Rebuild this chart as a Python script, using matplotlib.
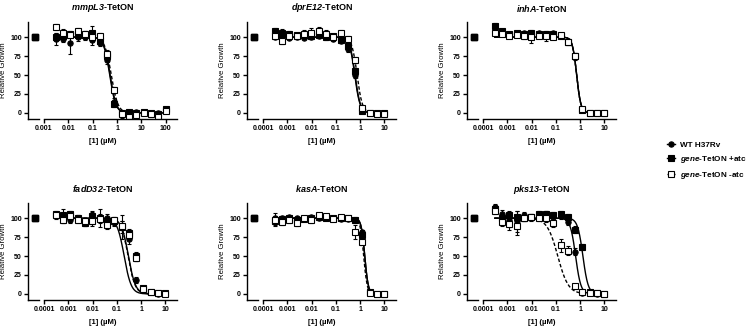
import numpy as np
import matplotlib.pyplot as plt
from matplotlib.lines import Line2D

plt.rcParams['font.family'] = 'Liberation Sans'
plt.rcParams['font.weight'] = 'bold'
plt.rcParams['mathtext.fontset'] = 'custom'
# bold-italic gene names (digits included) go through \mathbf
plt.rcParams['mathtext.bf'] = 'Liberation Sans:italic:bold'
plt.rcParams['mathtext.rm'] = 'Liberation Sans:bold'
plt.rcParams['axes.linewidth'] = 1.0

# concentrations (uM), 2-fold dilutions
conc_hi = [0.00305, 0.0061, 0.0122, 0.0244, 0.0488, 0.0977, 0.195, 0.39,
           0.78, 1.56, 3.13, 6.25, 12.5, 25, 50, 100]
conc_lo = [0.000305, 0.00061, 0.00122, 0.00244, 0.00488, 0.00977, 0.0195, 0.039,
           0.078, 0.156, 0.3125, 0.625, 1.25, 2.5, 5, 10]

# mmpL3
mmpl3_wt = [98, 97, 92, 100, 100, 96, 92, 70, 15, -3, 0, 1, 0, -2, 0, 3]
mmpl3_wt_err = [8, 4, 14, 5, 4, 6, 4, 6, 5, 4, 3, 2, 2, 3, 2, 2]
mmpl3_on = [100, 101, 104, 103, 103, 105, 95, 75, 12, 0, 1, 0, 1, 0, -2, 5]
mmpl3_on_err = [5, 4, 4, 4, 5, 10, 4, 5, 4, 3, 3, 2, 2, 3, 3, 2]
mmpl3_off = [113, 106, 103, 108, 104, 100, 102, 78, 30, -2, -5, -3, 0, -2, -5, 3]
mmpl3_off_err = [4, 5, 4, 4, 4, 4, 3, 5, 4, 3, 3, 2, 2, 2, 2, 2]
mmpl3_ic50 = [0.5, 0.52, 0.58]
mmpl3_hill = [3.5, 3.5, 3.2]

# dprE12
dpre12_wt = [100, 100, 99, 100, 99, 100, 101, 100, 98, 95, 85, 50, 2, 0, 0, -1]
dpre12_wt_err = [3, 3, 2, 2, 2, 2, 2, 2, 3, 3, 4, 4, 2, 1, 1, 1]
dpre12_on = [108, 106, 104, 103, 103, 102, 103, 100, 101, 96, 88, 55, 2, 0, 0, 0]
dpre12_on_err = [4, 5, 4, 3, 3, 3, 3, 4, 3, 3, 4, 4, 2, 1, 1, 1]
dpre12_off = [102, 95, 101, 102, 104, 105, 108, 104, 100, 106, 98, 70, 6, 0, -1, -1]
dpre12_off_err = [3, 4, 4, 4, 5, 7, 6, 5, 4, 3, 3, 4, 2, 1, 1, 1]
dpre12_ic50 = [0.6, 0.62, 0.75]
dpre12_hill = [4.0, 4.0, 4.0]

# inhA
inha_wt = [108, 106, 104, 104, 105, 104, 105, 104, 105, 103, 95, 74, 5, 0, 0, 0]
inha_wt_err = [3, 3, 3, 2, 2, 3, 2, 2, 2, 2, 3, 4, 2, 1, 1, 1]
inha_on = [115, 108, 104, 105, 104, 105, 104, 104, 104, 102, 93, 75, 4, 0, 0, 0]
inha_on_err = [4, 3, 3, 3, 3, 5, 3, 4, 3, 3, 3, 4, 2, 1, 1, 1]
inha_off = [106, 104, 102, 103, 101, 100, 102, 101, 100, 103, 94, 75, 5, 0, 0, 0]
inha_off_err = [3, 3, 3, 3, 3, 8, 3, 6, 3, 3, 3, 4, 2, 1, 1, 1]
inha_ic50 = [0.72, 0.72, 0.72]
inha_hill = [5.0, 5.0, 5.0]

# fadD32
fadd32_wt = [103, 100, 98, 100, 95, 100, 102, 100, 95, 88, 72, 18, 5, 2, 0, 0]
fadd32_wt_err = [4, 6, 5, 4, 5, 8, 4, 6, 5, 16, 6, 4, 3, 2, 2, 2]
fadd32_on = [106, 104, 105, 100, 94, 103, 100, 95, 96, 88, 80, 50, 8, 3, 1, 1]
fadd32_on_err = [4, 8, 4, 4, 4, 6, 12, 5, 5, 8, 6, 6, 3, 2, 2, 2]
fadd32_off = [104, 98, 103, 98, 96, 96, 99, 91, 97, 90, 78, 48, 6, 2, 1, 0]
fadd32_off_err = [3, 5, 4, 4, 4, 6, 5, 5, 4, 6, 5, 5, 3, 2, 2, 2]
fadd32_ic50 = [0.2, 0.3, 0.29]
fadd32_hill = [3.0, 3.0, 3.0]

# kasA
kasa_wt = [100, 100, 101, 100, 100, 101, 100, 100, 99, 99, 99, 98, 82, 2, 0, 0]
kasa_wt_err = [3, 3, 2, 2, 2, 2, 2, 2, 2, 2, 2, 3, 3, 1, 1, 1]
kasa_on = [96, 99, 100, 97, 99, 100, 101, 100, 100, 100, 100, 97, 78, 2, 0, 0]
kasa_on_err = [5, 4, 3, 3, 3, 3, 3, 3, 3, 2, 2, 3, 3, 1, 1, 1]
kasa_off = [98, 95, 97, 94, 100, 97, 104, 103, 99, 101, 100, 82, 68, 1, 0, 0]
kasa_off_err = [9, 4, 3, 5, 3, 3, 3, 3, 3, 3, 3, 9, 3, 1, 1, 1]
kasa_ic50 = [1.55, 1.55, 1.4]
kasa_hill = [6.0, 6.0, 6.0]

# pks13
pks13_wt = [115, 105, 98, 96, 104, 100, 102, 103, 101, 103, 95, 56, 1, 1, 0, 0]
pks13_wt_err = [4, 6, 10, 14, 4, 4, 4, 6, 4, 4, 4, 5, 2, 1, 1, 1]
pks13_on = [112, 100, 104, 101, 100, 101, 106, 105, 104, 106, 102, 85, 62, 2, 1, 0]
pks13_on_err = [4, 5, 5, 8, 4, 4, 4, 5, 4, 4, 4, 4, 4, 1, 1, 1]
pks13_off = [110, 95, 92, 90, 100, 102, 100, 100, 93, 64, 57, 10, 3, 1, 1, 0]
pks13_off_err = [4, 6, 8, 12, 4, 3, 4, 5, 5, 8, 6, 3, 2, 1, 1, 1]
pks13_ic50 = [0.65, 1.3, 0.12]
pks13_hill = [4.0, 4.0, 2.0]

W, H = 756, 328
fig = plt.figure(figsize=(W / 100, H / 100), dpi=100)

col_x = [28, 247, 467]
row_top = [22, 203]
seg_w, gap, main_w, ax_h = 11, 5, 133, 97

styles = [dict(marker='o', mfc='black', mec='black', ls='-'),
          dict(marker='s', mfc='black', mec='black', ls='-'),
          dict(marker='s', mfc='white', mec='black', ls=(0, (2.5, 1.5)))]


def hill_curve(x, ic50, h):
    return 100 / (1 + (x / ic50) ** h)


def panel(col, row, title, x, series, errs, ic50s, hills, xmin, xmax, xticks, xticklabels):
    left = col_x[col]
    top = row_top[row]
    bottom = (H - top - ax_h) / H
    axl = fig.add_axes([left / W, bottom, seg_w / W, ax_h / H])
    axm = fig.add_axes([(left + seg_w + gap) / W, bottom, main_w / W, ax_h / H])
    for a in (axl, axm):
        a.set_ylim(-8, 120)
        a.spines['top'].set_visible(False)
        a.spines['right'].set_visible(False)
        a.patch.set_visible(False)
        a.tick_params(length=3, width=1, labelsize=5, pad=1.5)
    # control (no drug) well
    axl.set_xlim(0, 1)
    axl.set_xticks([])
    axl.set_yticks([0, 25, 50, 75, 100])
    axl.set_ylabel('Relative Growth', fontsize=5.6, labelpad=2)
    for st in styles:
        axl.plot([0.65], [100], marker=st['marker'], mfc='black', mec='black', ms=3.8, ls='none')
    axm.spines['left'].set_visible(False)
    axm.set_yticks([])
    axm.set_xscale('log')
    axm.set_xlim(xmin, xmax)
    axm.set_xticks(xticks)
    axm.set_xticklabels(xticklabels)
    axm.minorticks_off()
    xs = np.logspace(np.log10(x[0]), np.log10(x[-1]), 200)
    for k in range(3):
        st = styles[k]
        axm.plot(xs, hill_curve(xs, ic50s[k], hills[k]), color='black', lw=1.0, ls=st['ls'])
        axm.errorbar(x, series[k], yerr=errs[k], fmt=st['marker'], mfc=st['mfc'], mec='black',
                     ms=3.8, mew=0.8, ecolor='black', elinewidth=0.8, capsize=1.5, capthick=0.8)
    cx = (left + (left + seg_w + gap + main_w)) / 2 / W
    fig.text(cx, (H - top + 14) / H, title, ha='center', va='center', fontsize=6.5)
    fig.text(cx, (H - top - ax_h - 22) / H, '[1] (µM)', ha='center', va='center', fontsize=5.6)


dec_lo = [0.0001, 0.001, 0.01, 0.1, 1, 10]
dec_lo_lab = ['0.0001', '0.001', '0.01', '0.1', '1', '10']

panel(0, 0, r'$\mathbf{mmpL3}$-TetON', conc_hi,
      [mmpl3_wt, mmpl3_on, mmpl3_off], [mmpl3_wt_err, mmpl3_on_err, mmpl3_off_err],
      mmpl3_ic50, mmpl3_hill, 0.001, 290,
      [0.001, 0.01, 0.1, 1, 10, 100], ['0.001', '0.01', '0.1', '1', '10', '100'])
panel(1, 0, r'$\mathbf{dprE12}$-TetON', conc_lo,
      [dpre12_wt, dpre12_on, dpre12_off], [dpre12_wt_err, dpre12_on_err, dpre12_off_err],
      dpre12_ic50, dpre12_hill, 0.0001, 30, dec_lo, dec_lo_lab)
panel(2, 0, r'$\mathbf{inhA}$-TetON', conc_lo,
      [inha_wt, inha_on, inha_off], [inha_wt_err, inha_on_err, inha_off_err],
      inha_ic50, inha_hill, 0.0001, 30, dec_lo, dec_lo_lab)
panel(0, 1, r'$\mathbf{fadD32}$-TetON', conc_lo,
      [fadd32_wt, fadd32_on, fadd32_off], [fadd32_wt_err, fadd32_on_err, fadd32_off_err],
      fadd32_ic50, fadd32_hill, 0.0001, 30, dec_lo, dec_lo_lab)
panel(1, 1, r'$\mathbf{kasA}$-TetON', conc_lo,
      [kasa_wt, kasa_on, kasa_off], [kasa_wt_err, kasa_on_err, kasa_off_err],
      kasa_ic50, kasa_hill, 0.0001, 30, dec_lo, dec_lo_lab)
panel(2, 1, r'$\mathbf{pks13}$-TetON', conc_lo,
      [pks13_wt, pks13_on, pks13_off], [pks13_wt_err, pks13_on_err, pks13_off_err],
      pks13_ic50, pks13_hill, 0.0001, 30, dec_lo, dec_lo_lab)

legend_labels = ['WT H37Rv', r'$\mathbf{gene}$-TetON +atc', r'$\mathbf{gene}$-TetON -atc']
handles = [Line2D([], [], color='black', lw=1.0, ls=st['ls'], marker=st['marker'],
                  mfc=st['mfc'], mec='black', ms=3.8, mew=0.8) for st in styles]
fig.legend(handles, legend_labels, loc='center left', bbox_to_anchor=(667 / W, 1 - 161 / H),
           frameon=False, fontsize=5.9, handlelength=1.0, handletextpad=0.6, labelspacing=0.65,
           borderaxespad=0, borderpad=0)

fig.savefig('out.png', dpi=100)
